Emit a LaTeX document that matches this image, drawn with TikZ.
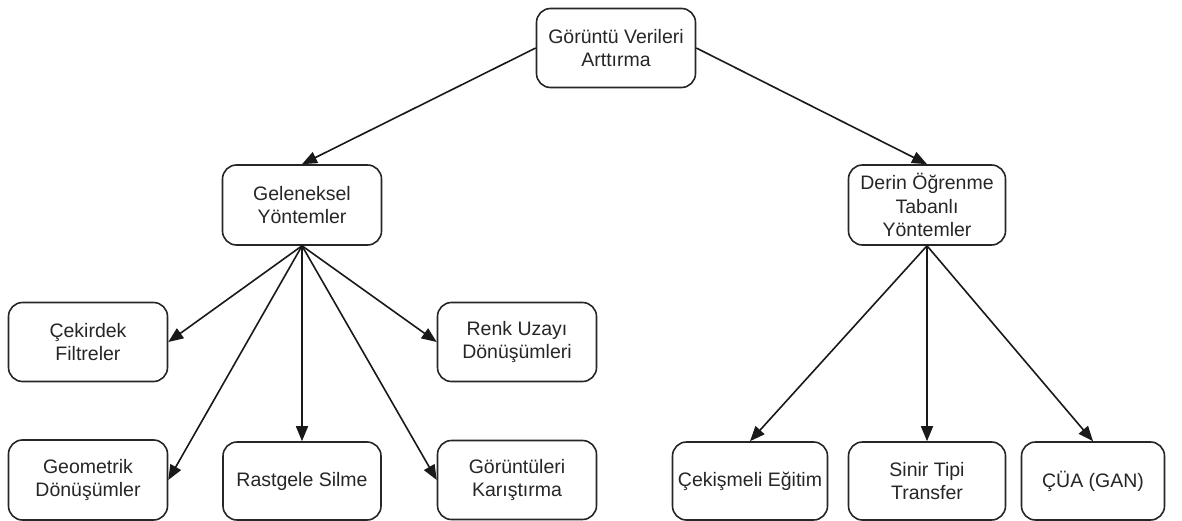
\documentclass[tikz,border=0pt]{standalone}
\usepackage{fontspec}
\setmainfont{Liberation Sans}
\usetikzlibrary{arrows.meta}
\begin{document}
\begin{tikzpicture}[x=1pt,y=-1pt,
  box/.style={draw=black!85, line width=1.6pt, rounded corners=14pt, fill=white,
    align=center, inner sep=0pt, font=\fontsize{19.5}{23.5}\selectfont, text=black!85},
  arr/.style={draw=black!90, line width=1.6pt, -{Triangle[length=15pt,width=12pt]}}]
\useasboundingbox (0,0) rectangle (1182,521);
\node[box, minimum width=159pt, minimum height=79pt] (top) at (616,48) {Görüntü Verileri\\Arttırma};
\node[box, minimum width=159pt, minimum height=80pt] (gel) at (302,205) {Geleneksel\\Yöntemler};
\node[box, minimum width=157pt, minimum height=80pt] (der) at (927,205) {Derin Öğrenme\\Tabanlı\\Yöntemler};
\node[box, minimum width=159pt, minimum height=79pt] (cek) at (88,342) {Çekirdek\\Filtreler};
\node[box, minimum width=159pt, minimum height=79pt] (renk) at (517,342) {Renk Uzayı\\Dönüşümleri};
\node[box, minimum width=159pt, minimum height=80pt] (geo) at (88,480) {Geometrik\\Dönüşümler};
\node[box, minimum width=158pt, minimum height=78pt] (ras) at (302,481) {Rastgele Silme};
\node[box, minimum width=159pt, minimum height=79pt] (gor) at (517,480) {Görüntüleri\\Karıştırma};
\node[box, minimum width=155pt, minimum height=78pt] (adv) at (750,481) {Çekişmeli Eğitim};
\node[box, minimum width=157pt, minimum height=78pt] (sin) at (927,481) {Sinir Tipi\\Transfer};
\node[box, minimum width=143pt, minimum height=78pt] (gan) at (1093,481) {ÇÜA (GAN)};
\draw[arr] (top.west) -- (gel.north);
\draw[arr] (top.east) -- (der.north);
\draw[arr] (gel.south) -- (cek.east);
\draw[arr] (gel.south) -- (renk.west);
\draw[arr] (gel.south) -- (geo.east);
\draw[arr] (gel.south) -- (ras.north);
\draw[arr] (gel.south) -- (gor.west);
\draw[arr] (der.south) -- (adv.north);
\draw[arr] (der.south) -- (sin.north);
\draw[arr] (der.south) -- (gan.north);
\end{tikzpicture}
\end{document}
